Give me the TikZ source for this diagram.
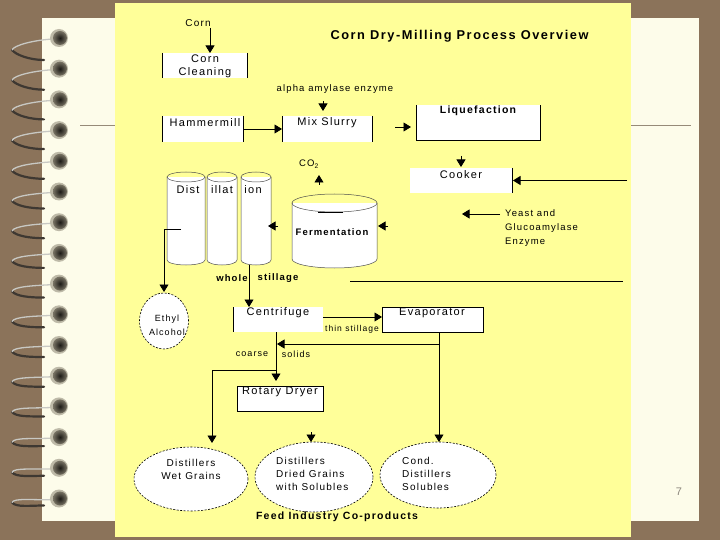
\documentclass[tikz,border=0pt]{standalone}
\usepackage{fontspec}
\setmainfont{Liberation Sans}[LetterSpace=12]
\usetikzlibrary{arrows.meta,shapes.geometric}
\definecolor{bgbrown}{RGB}{139,115,90}
\definecolor{pagecream}{RGB}{253,252,234}
\definecolor{panelyellow}{RGB}{255,255,153}
\definecolor{rulegrey}{RGB}{150,138,120}
\definecolor{wiredark}{RGB}{62,56,50}
\definecolor{wirelight}{RGB}{200,200,195}
\definecolor{ballin}{RGB}{28,26,22}
\definecolor{ballout}{RGB}{120,115,100}
\definecolor{ballhalo}{RGB}{190,186,168}
\definecolor{numgrey}{RGB}{140,135,125}
\begin{document}
\begin{tikzpicture}[x=1pt,y=-1pt,
  lbl/.style={inner sep=0pt, font=\fontsize{11}{13}\selectfont},
  sml/.style={inner sep=0pt, font=\fontsize{9.5}{13}\selectfont},
  arr/.style={line width=0.8pt, -{Triangle[width=9pt,length=7.5pt]}},
  edge/.style={line width=0.8pt},
  box/.style={rectangle, fill=white, inner sep=0pt, outer sep=0pt},
  prod/.style={ellipse, draw, fill=white, dash pattern=on 2pt off 1.5pt, line width=0.6pt, inner sep=0pt, outer sep=0pt},
  cylline/.style={line width=0.5pt, draw=black!70}
]
\useasboundingbox (0,0) rectangle (720,540);
% background, page, panel
\fill[bgbrown] (0,0) rectangle (720,540);
\fill[pagecream] (42,18) rectangle (699,521);
\draw[rulegrey, line width=1pt] (80,126) -- (691,126);
\fill[panelyellow] (115,3) rectangle (631,537);
\node[inner sep=0pt, text=numgrey, font=\fontsize{11}{13}\selectfont] (pagenum) at (679,492) {7};
% spiral binding
\foreach \i in {0,...,15}{
  \pgfmathsetmacro{\yy}{38+30.7*\i}
  \pgfmathsetmacro{\da}{12-8*\i/15}
  \pgfmathsetmacro{\db}{22-15*\i/15}
  \draw[wiredark, line width=2.2pt, line cap=round] (12,\yy+\da) .. controls (16,\yy+\da+5) and (30,\yy+\db) .. (44,\yy+\db);
  \draw[wirelight, line width=1.3pt, line cap=round] (53,\yy+1) .. controls (35,\yy+2) and (14,\yy+\da-5) .. (12,\yy+\da);
  \fill[ballhalo] (59,\yy) circle[radius=9pt];
  \shade[inner color=ballin, outer color=ballout] (60,\yy) circle[radius=7pt];
}
% title
\node[inner sep=0pt, font=\fontsize{12.8}{15}\selectfont\bfseries] (title) at (459.5,36) {Corn Dry-Milling Process Overview};
% boxes
\node[box, minimum width=85pt, minimum height=25pt] (cc) at (204.5,65.5) {};
\draw[edge] (cc.north west) -- (cc.south west) (cc.north east) -- (cc.south east);
\node[box, minimum width=81pt, minimum height=26pt] (hm) at (202.5,129) {};
\draw[edge] (hm.north west) -- (hm.south west) (hm.north east) -- (hm.south east);
\node[box, minimum width=90pt, minimum height=26pt] (ms) at (327,129) {};
\draw[edge] (ms.north west) -- (ms.south west) (ms.north east) -- (ms.south east);
\node[box, minimum width=124pt, minimum height=35pt] (liq) at (478,122.5) {};
\draw[edge] (liq.north west) -- (liq.south west) -- (liq.south east) -- (liq.north east);
\node[box, minimum width=102pt, minimum height=25pt] (cook) at (461,180.5) {};
\draw[edge] (cook.north east) -- (cook.south east);
\node[box, minimum width=90pt, minimum height=25pt] (cf) at (278,319.5) {};
\draw[edge] (cf.north west) -- (cf.south west);
\node[box, draw, line width=0.8pt, minimum width=101pt, minimum height=25pt] (ev) at (432.5,319.5) {};
\node[box, draw, line width=0.8pt, minimum width=86pt, minimum height=25pt] (rd) at (280,398.5) {};
% box labels
\node[lbl, align=center] (cct) at (205,66) {Corn\\Cleaning};
\node[lbl] (hmt) at (205,123) {Hammermill};
\node[lbl] (mst) at (327,123) {Mix Slurry};
\node[lbl, font=\fontsize{10.5}{13}\selectfont\bfseries] (lqt) at (478,111) {Liquefaction};
\node[lbl] (ckt) at (461,175) {Cooker};
\node[lbl] (cft) at (278,313) {Centrifuge};
\node[lbl] (evt) at (432,313) {Evaporator};
\node[lbl] (rdt) at (280,392) {Rotary Dryer};
% distillation columns
\foreach \a/\b in {167/205,207/237,241/271}{
  \pgfmathsetmacro{\cx}{(\a+\b)/2}
  \pgfmathsetmacro{\rx}{(\b-\a)/2}
  \fill[white] (\a,177) rectangle (\b,260);
  \fill[white] (\cx,260) ellipse[x radius=\rx pt, y radius=5pt];
  \draw[cylline] (\a,177) -- (\a,260) arc[start angle=180, end angle=360, x radius=\rx pt, y radius=5pt] -- (\b,177);
  \draw[cylline] (\cx,177) ellipse[x radius=\rx pt, y radius=5pt];
}
\coordinate (d1) at (181,229);
\coordinate (d3) at (249,265);
\node[lbl] (dist1) at (188,190) {Dist};
\node[lbl] (dist2) at (222,190) {illat};
\node[lbl] (dist3) at (253,190) {ion};
% fermentation tank
\fill[white] (292,203) rectangle (377,259);
\fill[white] (334.5,259) ellipse[x radius=42.5pt, y radius=9pt];
\draw[cylline] (292,203) -- (292,259) arc[start angle=180, end angle=360, x radius=42.5pt, y radius=9pt] -- (377,203);
\draw[cylline] (334.5,203) ellipse[x radius=42.5pt, y radius=9pt];
\draw[edge] (318,212) -- (343,212);
\node[inner sep=0pt, font=\fontsize{9.5}{12}\selectfont\bfseries] (fermt) at (332,232) {Fermentation};
% product ellipses
\node[prod, minimum width=49pt, minimum height=56pt] (eth) at (164,321) {};
\node[prod, minimum width=114pt, minimum height=64pt] (wet) at (191,479) {};
\node[prod, minimum width=118pt, minimum height=70pt] (dry) at (314,477) {};
\node[prod, minimum width=116pt, minimum height=66pt] (cond) at (438,475) {};
\node[inner sep=0pt, align=center, font=\fontsize{9}{14}\selectfont] (etht) at (167,325) {Ethyl\\Alcohol};
\node[inner sep=0pt, align=center, font=\fontsize{10}{13}\selectfont] (wett) at (191,469) {Distillers\\Wet Grains};
\node[inner sep=0pt, align=left, anchor=west, font=\fontsize{10}{13}\selectfont] (dryt) at (276,474) {Distillers\\Dried Grains\\with Solubles};
\node[inner sep=0pt, align=left, anchor=west, font=\fontsize{10}{13}\selectfont] (condt) at (402,474) {Cond.\\Distillers\\Solubles};
\node[inner sep=0pt, font=\fontsize{10.5}{13}\selectfont\bfseries] (feed) at (337,517) {Feed Industry Co-products};
% small labels
\node[inner sep=0pt, font=\fontsize{10}{12}\selectfont] (corn) at (198,23) {Corn};
\node[sml] (alpha) at (335,89) {alpha amylase enzyme};
\node[sml] (co2) at (309,164) {CO\textsubscript{2}};
\node[sml, align=left, anchor=west, font=\fontsize{9.5}{14}\selectfont] (yeast) at (505,228) {Yeast and\\Glucoamylase\\Enzyme};
\node[inner sep=0pt, font=\fontsize{9.5}{12}\selectfont\bfseries] (whole) at (232,278) {whole};
\node[inner sep=0pt, font=\fontsize{9.5}{12}\selectfont\bfseries] (still) at (278,278) {stillage};
\node[inner sep=0pt, font=\fontsize{8.5}{12}\selectfont] (thin) at (352,329) {thin stillage};
\node[inner sep=0pt, font=\fontsize{9}{12}\selectfont] (coarse) at (252,354) {coarse};
\node[inner sep=0pt, font=\fontsize{9}{12}\selectfont] (solids) at (296,354) {solids};
% connector coordinates
\coordinate (cornx) at (210,28);
\coordinate (aa1) at (323,101);
\coordinate (aa2) at (323,111);
\coordinate (lq1) at (395,127);
\coordinate (lq2) at (411,127);
\coordinate (ck1) at (461,156);
\coordinate (ck2) at (461,167);
\coordinate (ckin) at (627,180.5);
\coordinate (co1) at (319,185);
\coordinate (co2a) at (319,175);
\coordinate (fa1) at (388,226);
\coordinate (fa2) at (378,226);
\coordinate (ca1) at (278,226);
\coordinate (ca2) at (268,226);
\coordinate (ye1) at (500,214);
\coordinate (ye2) at (462,214);
\coordinate (ln1) at (350,281);
\coordinate (ln2) at (623,281);
\coordinate (evd) at (439,332);
\coordinate (evb) at (439,344);
\coordinate (cfb) at (277,344);
\coordinate (cfd) at (276,332);
\coordinate (cs) at (276,370);
\coordinate (rd1) at (311,432);
\coordinate (rd2) at (311,442);
% connectors
\draw[arr] (cornx) -- (cornx |- cc.north);
\draw[arr] (aa1) -- (aa2);
\draw[arr] (hm.east) -- (ms.west);
\draw[arr] (lq1) -- (lq2);
\draw[arr] (ck1) -- (ck2);
\draw[arr] (ckin) -- ([xshift=1pt]cook.east);
\draw[arr] (co1) -- (co2a);
\draw[arr] (fa1) -- (fa2);
\draw[arr] (ca1) -- (ca2);
\draw[arr] (ye1) -- (ye2);
\draw[edge] (ln1) -- (ln2);
\draw[arr] (d1) -| ([yshift=1pt]eth.north);
\draw[arr] (d3) -- (d3 |- cf.north);
\draw[arr] ([yshift=2.5pt]cf.east) -- ([yshift=2.5pt]ev.west);
\draw[arr] (evd) -- (evd |- cond.north);
\draw[arr] (evb) -- (cfb);
\draw[arr] (cfd) -- ([yshift=5pt]cfd |- rd.north);
\draw[arr] (cs) -| ([yshift=4pt]wet.north -| 212,0);
\draw[arr] (rd1) -- (rd2);
\end{tikzpicture}
\end{document}
